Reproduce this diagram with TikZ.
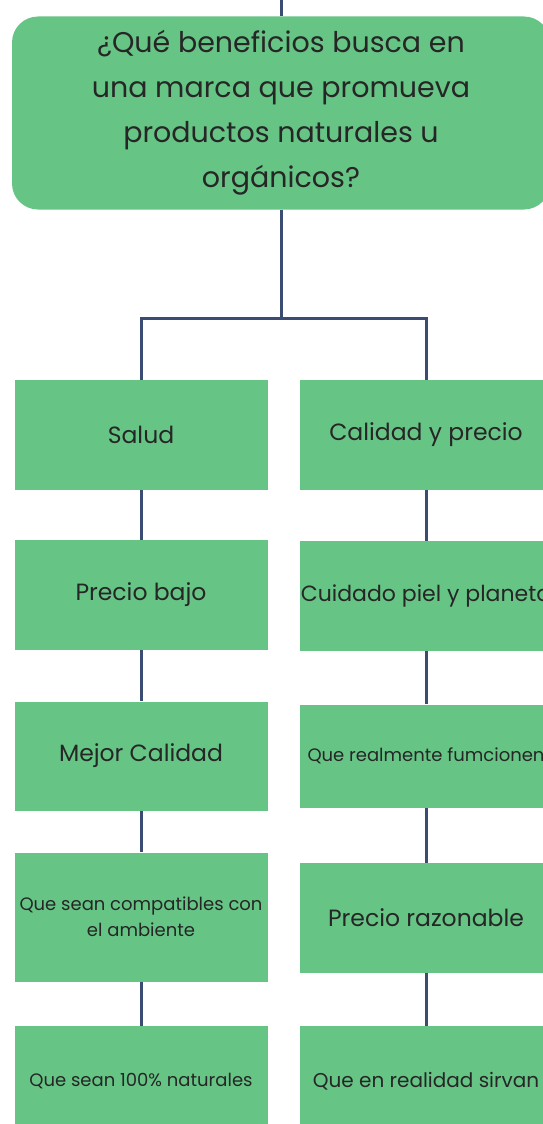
\documentclass[tikz,border=0pt]{standalone}
\usepackage{fontspec}
\setmainfont{Poppins}
\definecolor{boxgreen}{HTML}{66C485}
\definecolor{linkblue}{HTML}{3B4C72}
\newcommand{\colw}{253pt}
\newcommand{\rowh}{110pt}

\begin{document}
\begin{tikzpicture}[x=1pt,y=-1pt,
    box/.style={rectangle, fill=boxgreen, minimum width=\colw, minimum height=\rowh, inner sep=0pt, text=black!85, align=center, font=\fontsize{23.5}{28}\selectfont},
    small/.style={font=\fontsize{18}{26}\selectfont},
    link/.style={draw=linkblue, line width=3pt}]
    \useasboundingbox (0,0) rectangle (543,1124);
    \clip (0,0) rectangle (543,1124);

    % Question
    \node[box, rounded corners=26pt, minimum width=538pt, minimum height=193pt, font=\fontsize{28.5}{45}\selectfont] (question) at (281,113)
        {¿Qué beneficios busca en\\una marca que promueva\\productos naturales u\\orgánicos?};
    \coordinate (top) at (281,0);
    \coordinate (split) at (281,318);

    % Left column
    \node[box] (left-1) at (141,435) {Salud};
    \node[box] (left-2) at (141,595) {Precio bajo};
    \node[box, minimum height=109pt] (left-3) at (141,756) {Mejor Calidad};
    \node[box, small, minimum height=129pt] (left-4) at (141,917) {Que sean compatibles con\\el ambiente};
    \node[box, small] (left-5) at (141,1081) {Que sean 100\% naturales};

    % Right column
    \node[box] (right-1) at (426,435) {Calidad y precio};
    \node[box, font=\fontsize{22}{26}\selectfont] (right-2) at (426,596) {Cuidado piel y planeta};
    \node[box, small, minimum height=103pt] (right-3) at (426,756) {Que realmente fumcionen};
    \node[box] (right-4) at (426,918) {Precio razonable};
    \node[box, font=\fontsize{20}{24}\selectfont] (right-5) at (426,1081) {Que en realidad sirvan};

    % Links
    \draw[link] (top) -- (question.north);
    \draw[link] (question.south) -- (split);
    \draw[link] (split) -| (left-1.north);
    \draw[link] (split) -| (right-1.north);
    \foreach \a/\b in {1/2, 2/3, 3/4, 4/5} {
        \draw[link] (left-\a.south) -- (left-\b.north);
        \draw[link] (right-\a.south) -- (right-\b.north);
    }

\end{tikzpicture}
\end{document}
